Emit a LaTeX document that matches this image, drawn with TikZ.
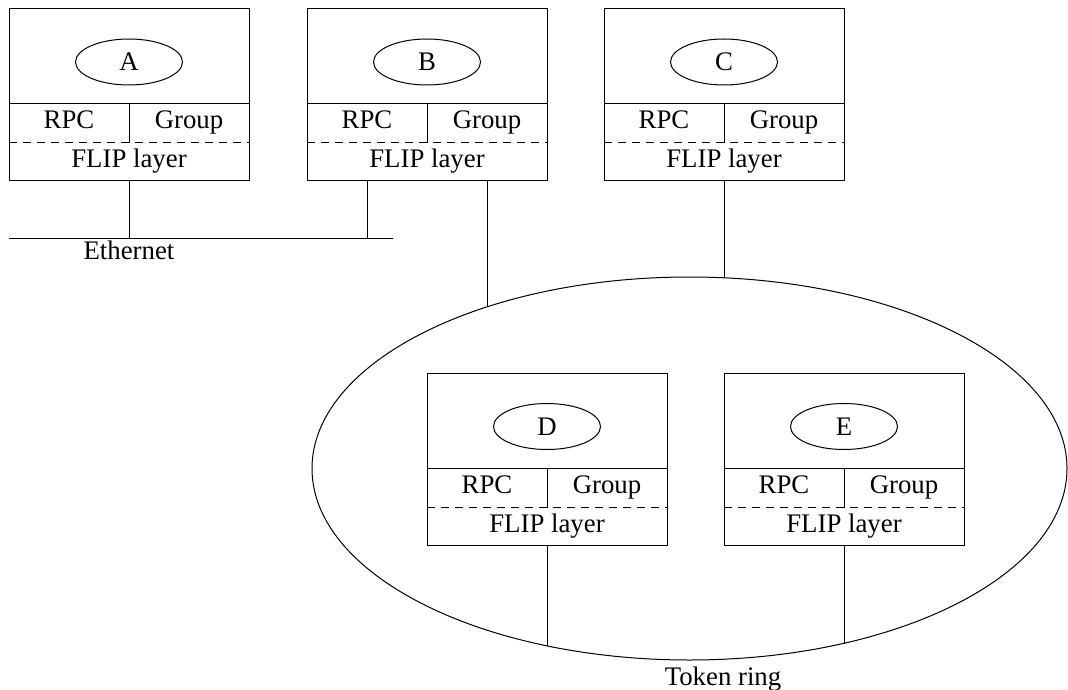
\documentclass[tikz,border=0pt]{standalone}
\usepackage{fontspec}
\setmainfont{Liberation Serif}
\usepackage{tikz}
\tikzset{host/.style={draw,minimum width=120pt,minimum height=86pt,inner sep=0pt,outer sep=0pt},
	proc/.style={ellipse,draw,minimum width=53.5pt,minimum height=23pt,inner sep=0pt},
	txt/.style={anchor=base,inner sep=0pt},
	ring/.style={ellipse,draw,minimum width=377.5pt,minimum height=191.5pt,inner sep=0pt,outer sep=0pt},
}
\usetikzlibrary{positioning,shapes.geometric}

\begin{document}
\begin{tikzpicture}[x=0.5pt,y=-0.5pt,line width=0.5pt,font={\fontsize{13.4}{15}\selectfont}]
	\useasboundingbox (0,0) rectangle (1068,689);
	
	%% hosts
	\foreach \h/\x/\y in {A/129/95,B/427/95,C/724/95,D/547/459.5,E/844/459.5}{
		\node[host] (\h) at (\x,\y) {};
		\node[proc] (\h-proc) at (\x,\y-33) {\h};
		\node[txt] (\h-rpc) at (\x-60,\y+34) {RPC};
		\node[txt] (\h-grp) at (\x+60,\y+34) {Group};
		\node[txt] (\h-flip) at (\x,\y+73) {FLIP layer};
		\draw ([yshift=-4.5pt]\h.west) -- ([yshift=-4.5pt]\h.east);
		\draw[dash pattern=on 4pt off 3pt] ([yshift=-24pt]\h.west) -- ([yshift=-24pt]\h.east);
		\draw ([yshift=-4.5pt]\h.center) -- ([yshift=-24pt]\h.center);
	}
	
	%% networks
	\node[ring] (ring) at (689.5,468.5) {};
	\coordinate (ethL) at (9,239);
	\coordinate (ethR) at (393,239);
	\draw (ethL) -- (ethR);
	
	\draw (A.south) -- (A.south |- ethL);
	\draw ([xshift=-30pt]B.south) -- ([xshift=-30pt]B.south |- ethL);
	\draw ([xshift=30pt]B.south) -- ([xshift=30pt]B.south |- ring.141.4);
	\draw (C.south) -- (C.south |- ring.79.75);
	\draw (D.south) -- (D.south |- ring.231.2);
	\draw (E.south) -- (E.south |- ring.311.5);
	
	\coordinate (ethA) at (A.south |- ethL);
	\node[below=0.5pt of ethA,inner sep=0pt] (eth) {Ethernet};
	\node[txt] (tok) at (723,685) {Token ring};
\end{tikzpicture}
\end{document}
